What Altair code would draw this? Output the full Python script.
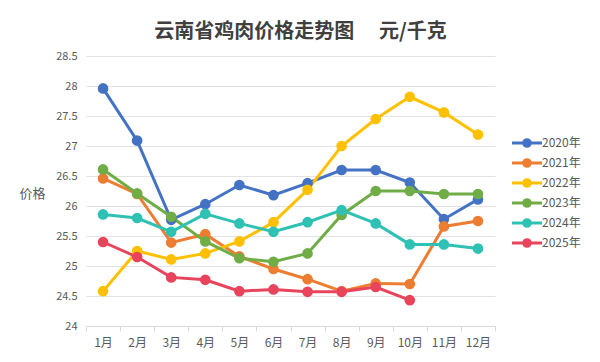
import altair as alt
import pandas as pd

months = ["1月", "2月", "3月", "4月", "5月", "6月", "7月", "8月", "9月", "10月", "11月", "12月"]
years = ["2020年", "2021年", "2022年", "2023年", "2024年", "2025年"]
colors = ["#4472C4", "#ED7D31", "#FFC000", "#70AD47", "#2EC1B4", "#E8445C"]

y2020 = [27.96, 27.09, 25.77, 26.03, 26.35, 26.18, 26.38, 26.60, 26.60, 26.39, 25.78, 26.11]
y2021 = [26.46, 26.20, 25.39, 25.53, 25.16, 24.95, 24.78, 24.58, 24.71, 24.70, 25.66, 25.75]
y2022 = [24.58, 25.25, 25.11, 25.21, 25.41, 25.73, 26.27, 27.00, 27.45, 27.82, 27.56, 27.19]
y2023 = [26.61, 26.21, 25.82, 25.41, 25.13, 25.07, 25.21, 25.85, 26.25, 26.25, 26.20, 26.20]
y2024 = [25.86, 25.80, 25.57, 25.87, 25.71, 25.57, 25.73, 25.93, 25.71, 25.36, 25.36, 25.29]
y2025 = [25.40, 25.15, 24.81, 24.77, 24.58, 24.61, 24.57, 24.57, 24.65, 24.43]

series = [y2020, y2021, y2022, y2023, y2024, y2025]
rows = []
for yr, vals in zip(years, series):
    for m, v in zip(months, vals):
        rows.append({"month": m, "year": yr, "price": v})
df = pd.DataFrame(rows)

sym = "M-2,0L2,0M-0.44,0A0.44,0.44,0,1,1,0.44,0A0.44,0.44,0,1,1,-0.44,0Z"

legend = alt.Legend(orient="none", legendX=432, legendY=78,
                    symbolType=sym, symbolSize=225, symbolStrokeWidth=3,
                    rowPadding=0, labelFont="Noto Sans CJK SC",
                    labelFontSize=12, labelColor="#595959", labelOffset=6)

x_enc = alt.X("month:N", sort=months, title=None,
              scale=alt.Scale(paddingInner=0, paddingOuter=0),
              axis=alt.Axis(labelAngle=0, labelFont="Noto Sans CJK SC", labelFontSize=12,
                            labelColor="#595959", labelPadding=6, domainColor="#D9D9D9",
                            tickColor="#D9D9D9", tickSize=5, tickBand="extent", grid=False))
y_enc = alt.Y("price:Q", title="价格",
              scale=alt.Scale(domain=[24, 28.5], nice=False, zero=False),
              axis=alt.Axis(values=[24, 24.5, 25, 25.5, 26, 26.5, 27, 27.5, 28, 28.5], format="~f",
                            labelFont="Noto Sans CJK SC", labelFontSize=11, labelColor="#595959",
                            labelPadding=9, domain=False, ticks=False, gridColor="#E3E3E3",
                            titleAngle=0, titleX=-54, titleY=137, titleAlign="center",
                            titleBaseline="middle", titleFont="Noto Sans CJK SC",
                            titleFontSize=13, titleFontWeight="normal", titleColor="#595959"))

scale = alt.Scale(domain=years, range=colors)

base = alt.Chart(df)
lines = base.mark_line(strokeWidth=3).encode(
    x=x_enc, y=y_enc,
    stroke=alt.Stroke("year:N", scale=scale, title=None, legend=legend),
)
points = base.mark_point(filled=True, size=75, opacity=1).encode(
    x=x_enc, y=y_enc,
    fill=alt.Fill("year:N", scale=scale, title=None, legend=legend),
    stroke=alt.Stroke("year:N", scale=scale, title=None, legend=legend),
)

chart = alt.layer(lines, points).properties(
    width=409, height=270,
    title=alt.TitleParams("云南省鸡肉价格走势图\u3000\u00a0元/千克", font="Noto Sans CJK SC",
                          fontSize=20, fontWeight="bold", color="#404040",
                          anchor="middle", dx=10, offset=8),
    autosize=alt.AutoSizeParams(type="none"),
    padding={"left": 78, "top": 48, "right": 97, "bottom": 30},
).configure_view(stroke=None)

chart.save("out.html", embed_options={"renderer": "svg", "actions": False})
